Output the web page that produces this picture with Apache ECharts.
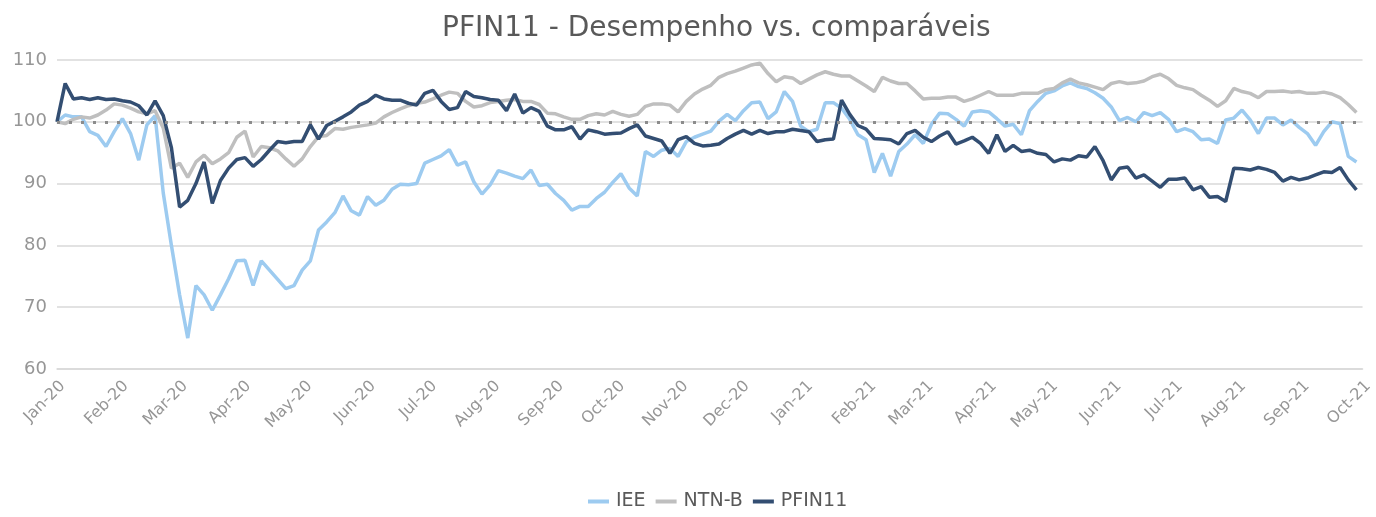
<!DOCTYPE html>
<html>
<head>
<meta charset="utf-8">
<script src="https://cdn.jsdelivr.net/npm/echarts@6/dist/echarts.min.js"></script>
<style>
html,body{margin:0;padding:0;background:#fff;}
#chart{width:1376px;height:517px;}
</style>
</head>
<body>
<div id="chart"></div>
<script>
// Sampling: one observation every 4 calendar days starting 2020-01-01
const startYear = 2020, startMonth = 0, startDay = 1, stepDays = 4;
const monthNames = ['Jan','Feb','Mar','Apr','May','Jun','Jul','Aug','Sep','Oct','Nov','Dec'];
const seriesNames = ['IEE', 'NTN-B', 'PFIN11'];
const yTicks = [60, 70, 80, 90, 100, 110];
const baseLine = 100;

const iee = [
100.0,101.1,100.8,100.8,98.4,97.8,96.0,98.4,100.5,98.1,
93.8,99.5,101.0,88.5,80.0,72.0,65.0,73.5,72.0,69.5,
72.0,74.6,77.5,77.6,73.5,77.5,76.0,74.5,73.0,73.5,
76.0,77.5,82.5,83.8,85.3,88.0,85.6,84.9,87.9,86.5,
87.3,89.1,89.9,89.8,90.0,93.3,93.9,94.5,95.5,93.0,
93.5,90.3,88.3,89.8,92.1,91.7,91.2,90.8,92.2,89.7,
89.9,88.4,87.3,85.7,86.3,86.3,87.6,88.6,90.2,91.6,
89.3,88.0,95.2,94.4,95.4,95.7,94.4,96.8,97.5,98.0,
98.5,100.1,101.2,100.2,101.8,103.1,103.2,100.5,101.6,104.9,
103.3,99.3,98.4,98.8,103.1,103.1,102.2,100.4,97.9,97.1,
91.8,94.9,91.2,95.2,96.4,97.9,96.5,99.6,101.4,101.3,
100.4,99.3,101.6,101.8,101.6,100.5,99.3,99.6,97.9,101.8,
103.3,104.6,105.0,105.8,106.3,105.7,105.4,104.7,103.8,102.4,
100.2,100.7,100.0,101.5,101.0,101.5,100.4,98.4,98.9,98.4,
97.1,97.2,96.5,100.3,100.6,101.9,100.3,98.1,100.6,100.6,
99.5,100.3,99.1,98.1,96.2,98.4,100.0,99.7,94.4,93.5
];

const ntnb = [
100.0,99.7,100.4,100.8,100.6,101.1,101.9,102.9,102.7,102.2,
101.6,101.3,101.8,99.0,92.5,93.3,91.0,93.5,94.6,93.2,
94.0,95.0,97.5,98.5,94.3,96.0,95.8,95.3,94.0,92.8,
94.0,96.0,97.6,97.8,98.9,98.8,99.1,99.3,99.5,99.8,
100.8,101.5,102.1,102.6,103.0,103.2,103.7,104.3,104.8,104.6,
103.3,102.4,102.6,103.1,103.3,103.5,103.6,103.3,103.3,102.8,
101.4,101.3,100.8,100.4,100.4,101.0,101.3,101.1,101.7,101.2,
100.9,101.2,102.5,102.9,102.9,102.7,101.6,103.3,104.5,105.3,
105.9,107.2,107.8,108.2,108.7,109.2,109.5,107.8,106.5,107.3,
107.1,106.2,106.9,107.6,108.1,107.7,107.4,107.4,106.6,105.8,
104.9,107.2,106.6,106.2,106.2,105.0,103.7,103.8,103.8,104.0,
104.0,103.3,103.7,104.3,104.9,104.3,104.3,104.3,104.6,104.6,
104.6,105.2,105.4,106.3,106.9,106.3,106.0,105.6,105.2,106.2,
106.5,106.2,106.3,106.6,107.3,107.7,107.0,105.9,105.5,105.2,
104.3,103.5,102.5,103.4,105.4,104.9,104.6,103.9,104.9,104.9,
105.0,104.8,104.9,104.6,104.6,104.8,104.5,103.9,102.8,101.5
];

const pfin = [
100.0,106.2,103.7,103.9,103.6,103.9,103.6,103.7,103.4,103.2,
102.6,101.1,103.4,101.0,95.8,86.2,87.3,90.0,93.5,86.8,
90.5,92.5,93.9,94.2,92.8,93.9,95.4,96.8,96.6,96.8,
96.8,99.5,97.2,99.4,100.1,100.8,101.6,102.7,103.3,104.3,
103.7,103.5,103.5,103.0,102.7,104.6,105.1,103.3,102.0,102.3,
104.9,104.1,103.9,103.6,103.5,101.8,104.5,101.4,102.3,101.7,
99.3,98.7,98.7,99.2,97.2,98.7,98.4,98.0,98.1,98.2,
98.9,99.5,97.7,97.3,96.9,94.9,97.1,97.6,96.5,96.1,
96.2,96.4,97.3,98.0,98.6,98.0,98.6,98.1,98.4,98.4,
98.8,98.6,98.4,96.8,97.1,97.2,103.5,101.2,99.4,98.8,
97.3,97.2,97.1,96.4,98.1,98.6,97.5,96.8,97.7,98.4,
96.4,96.9,97.5,96.5,94.9,97.9,95.2,96.2,95.2,95.4,
94.9,94.7,93.5,94.0,93.8,94.5,94.3,96.0,93.7,90.6,
92.5,92.7,90.9,91.4,90.4,89.4,90.7,90.7,90.9,89.0,
89.5,87.8,87.9,87.1,92.5,92.4,92.2,92.6,92.3,91.8,
90.4,91.0,90.6,90.9,91.4,91.9,91.8,92.6,90.6,89.0
];

const dates = iee.map((_, i) => new Date(startYear, startMonth, startDay + stepDays * i).getTime());
const pair = arr => arr.map((v, i) => [dates[i], v]);

const axisMin = new Date(2020, 0, 1).getTime();
const axisMax = new Date(2021, 9, 1).getTime();
const DAY = 86400000;
const font = 'DejaVu Sans';

const chart = echarts.init(document.getElementById('chart'), null, {renderer: 'canvas'});
chart.setOption({
  animation: false,
  backgroundColor: '#ffffff',
  title: {
    text: 'PFIN11 - Desempenho vs. comparáveis',
    left: 437, top: 10,
    textStyle: {fontFamily: font, fontSize: 28, fontWeight: 'normal', color: '#595959'}
  },
  legend: {
    data: seriesNames,
    bottom: 1, left: 583,
    icon: 'rect', itemWidth: 21, itemHeight: 4, itemGap: 10,
    textStyle: {fontFamily: font, fontSize: 19, color: '#595959', padding: [0, 0, 0, 2]}
  },
  grid: {left: 57, right: 8, top: 60, bottom: 148, containLabel: false},
  xAxis: {
    type: 'time',
    min: axisMin, max: axisMax,
    minInterval: 28 * DAY, maxInterval: 31 * DAY,
    splitLine: {show: false},
    axisTick: {show: false},
    axisLine: {lineStyle: {color: '#d9d9d9', width: 1.5}},
    axisLabel: {
      rotate: 45, margin: 9, verticalAlign: 'top',
      fontFamily: font, fontSize: 16, color: '#969696',
      showMinLabel: true, showMaxLabel: true, hideOverlap: false,
      formatter: function (v) {
        const d = new Date(v);
        return monthNames[d.getMonth()] + '-' + String(d.getFullYear()).slice(2);
      }
    }
  },
  yAxis: {
    type: 'value', min: yTicks[0], max: yTicks[yTicks.length - 1], interval: 10,
    axisLine: {show: false}, axisTick: {show: false},
    splitLine: {lineStyle: {color: '#d9d9d9', width: 1.5}},
    axisLabel: {fontFamily: font, fontSize: 18, color: '#969696', margin: 10}
  },
  series: [
    {
      name: seriesNames[0], type: 'line', data: pair(iee), showSymbol: false, symbol: 'none',
      lineStyle: {color: '#9dcbf0', width: 3.5}, itemStyle: {color: '#9dcbf0'},
      markLine: {
        silent: true, symbol: 'none', label: {show: false},
        lineStyle: {color: '#8c8c8c', width: 3, type: [3, 9]},
        data: [{yAxis: baseLine}]
      },
      z: 2
    },
    {
      name: seriesNames[1], type: 'line', data: pair(ntnb), showSymbol: false, symbol: 'none',
      lineStyle: {color: '#bfbfbf', width: 3.5}, itemStyle: {color: '#bfbfbf'}, z: 3
    },
    {
      name: seriesNames[2], type: 'line', data: pair(pfin), showSymbol: false, symbol: 'none',
      lineStyle: {color: '#334e72', width: 3.5}, itemStyle: {color: '#334e72'}, z: 4
    }
  ]
});
</script>
</body>
</html>
